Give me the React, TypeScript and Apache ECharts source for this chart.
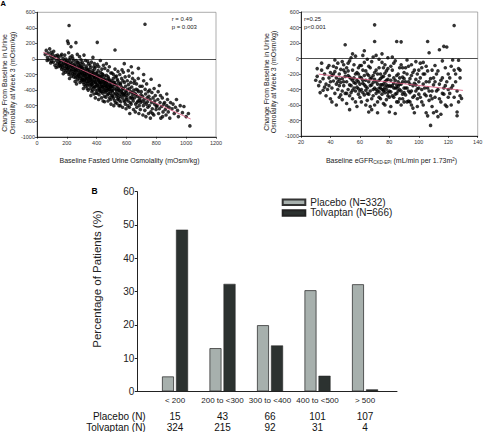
import React, { useEffect, useRef } from 'react';
import * as echarts from 'echarts';

const FONT = "'Liberation Sans', Arial, Helvetica, sans-serif";

// Panel B data
const categories = ['< 200', '200 to <300', '300 to <400', '400 to <500', '> 500'];
const placeboPct = [4.5, 13.0, 19.9, 30.4, 32.2];
const tolvaptanPct = [48.6, 32.3, 13.8, 4.7, 0.6];
const placeboN = [15, 43, 66, 101, 107];
const tolvaptanN = [324, 215, 92, 31, 4];

// Panel A regression lines (end points)
const leftReg = [[42, 86], [1030, -771]];
const rightReg = [[32, -202], [130, -412]];

// Panel A left: baseline fasted urine osmolality vs change
const leftPts = [
  [55,60],[62,110],[70,20],[75,75],[80,-10],[85,130],[90,40],[95,85],[98,-30],[100,10],[92,-50],[68,-20],
  [105,60],[110,-40],[115,20],[120,-80],[125,40],[130,-20],[135,-60],[138,50],[140,-100],[145,0],[148,-40],[150,-80],[112,100],[128,-110],[142,30],
  [152,-60],[155,-20],[158,-100],[160,40],[162,-80],[165,-130],[168,-30],[170,-70],[172,-110],[175,10],[178,-50],[180,-150],[182,-90],[185,-20],[188,-120],[190,-60],[192,-170],[195,-40],[198,-100],[200,-140],[186,50],[176,-190],[166,60],[194,0],[199,-70],
  [202,-30],[204,-120],[206,-80],[208,-170],[210,-50],[212,-110],[214,-200],[216,-10],[218,-140],[220,-70],[222,-180],[224,-100],[226,-40],[228,-150],[230,-220],[232,-90],[234,-130],[236,-60],[238,-190],[240,-110],[242,-160],[244,-20],[246,-230],[248,-80],[250,-140],[205,230],[210,200],[215,430],[228,158],[212,80],[235,40],[222,20],[240,10],[218,-250],[248,-200],
  [252,-100],[254,-180],[256,-60],[258,-240],[260,-130],[262,-20],[264,-200],[266,-90],[268,-160],[270,-270],[272,-120],[274,-50],[276,-210],[278,-150],[280,-80],[282,-250],[284,-180],[286,-110],[288,-300],[290,-140],[292,-60],[294,-220],[296,-170],[298,-100],[300,-260],[261,210],[270,60],[285,30],[295,-10],[255,-290],[265,-320],[275,-40],[283,-230],[291,-190],[299,-130],[257,-150],[267,-230],[279,-200],[289,-90],[297,-280],
  [302,-180],[304,-110],[306,-240],[308,-300],[310,-150],[312,-70],[314,-210],[316,-330],[318,-190],[320,-120],[322,-260],[324,-350],[326,-160],[328,-230],[330,-90],[332,-290],[334,-200],[336,-380],[338,-140],[340,-250],[342,-320],[344,-180],[346,-60],[348,-270],[350,-210],[303,-40],[311,-380],[319,-270],[327,-310],[335,-120],[343,-400],[349,-140],[315,50],[325,-20],[340,-30],[307,-200],[317,-160],[329,-190],[339,-340],[347,-230],[305,-260],[313,-280],[323,-220],[333,-250],[345,-290],
  [352,-160],[354,-300],[356,-230],[358,-380],[360,-110],[362,-260],[364,-330],[366,-200],[368,-420],[370,-280],[372,-150],[374,-350],[376,-240],[378,-310],[380,-190],[382,-450],[384,-270],[386,-130],[388,-360],[390,-230],[392,-300],[394,-400],[396,-180],[398,-330],[400,-260],[355,-80],[365,-40],[375,20],[385,-60],[395,-100],[359,-250],[369,-320],[379,-370],[389,-290],[399,-210],[353,-210],[363,-180],[373,-400],[383,-220],[393,-350],[357,-340],[367,-290],[377,-170],[387,-240],[397,-440],[361,-470],[381,-100],[391,-500],[371,-210],[404,214],
  [402,-180],[404,-310],[406,-240],[408,-400],[410,-150],[412,-360],[414,-280],[416,-460],[418,-210],[420,-330],[422,-250],[424,-420],[426,-170],[428,-380],[430,-300],[432,-500],[434,-230],[436,-350],[438,-270],[440,-440],[442,-200],[444,-320],[446,-390],[448,-260],[450,-340],[405,-70],[415,-100],[425,-20],[435,-130],[445,-80],[409,-270],[419,-290],[429,-230],[439,-360],[449,-410],[403,-440],[413,-520],[423,-300],[433,-420],[443,-540],[407,-340],[417,-380],[427,-310],[437,-190],[447,-300],[411,-220],[421,-400],[431,-350],[441,-270],[451,-480],
  [452,-220],[454,-370],[456,-300],[458,-430],[460,-260],[462,-490],[464,-350],[466,-210],[468,-400],[470,-320],[472,-460],[474,-280],[476,-540],[478,-370],[480,-250],[482,-420],[484,-330],[486,-500],[488,-390],[490,-290],[492,-440],[494,-360],[496,-580],[498,-310],[500,-470],[455,-120],[465,-60],[475,-150],[485,-100],[495,-180],[459,-340],[469,-380],[479,-450],[489,-340],[499,-400],[453,-550],[463,-410],[473,-350],[483,-390],[493,-520],[457,-280],[467,-310],[477,-230],[487,-270],[497,-350],
  [502,-280],[505,-420],[508,-350],[511,-500],[514,-300],[517,-450],[520,-380],[523,116],[526,-560],[529,-330],[532,-480],[535,-410],[538,-260],[541,-520],[544,-370],[547,-440],[550,-600],[503,-180],[513,-200],[523,-130],[533,-220],[543,-160],[507,-480],[519,-530],[531,-390],[545,-500],[509,-400],[521,-300],[537,-350],[549,-400],[515,-600],[527,-440],[539,-460],[501,-360],[511,-250],[525,-230],[536,-570],[548,-310],[518,-330],[542,-280],
  [553,-400],[556,-480],[559,-330],[562,-550],[565,-420],[568,-360],[571,-500],[574,-620],[577,-450],[580,-380],[583,-530],[586,-300],[589,-460],[592,-580],[595,-410],[598,-500],[555,-200],[567,-250],[579,-170],[591,-230],[558,-600],[570,-430],[582,-470],[594,-350],[561,-310],[573,-390],[585,-440],[597,-640],[552,-530],[564,-460],[576,-280],[588,-550],[600,-430],[570,-140],[585,-60],
  [603,-470],[607,-390],[611,-540],[615,-450],[619,-620],[623,-500],[627,-420],[631,-580],[635,-360],[639,-510],[643,-460],[647,-650],[605,-280],[617,-220],[629,-300],[641,-250],[609,-600],[621,-380],[633,-490],[645,-540],[613,-330],[625,-560],[637,-430],[649,-400],[601,-520],[650,-310],[622,-700],[640,-180],[612,-150],[632,-100],
  [653,-500],[657,-440],[661,-580],[665,-390],[669,-620],[673,-480],[677,-540],[681,-420],[685,-600],[689,-500],[693,-650],[697,-460],[655,-280],[667,-320],[679,-250],[691,-350],[659,-680],[671,-560],[683,-700],[695,-560],[663,-460],[675,-400],[687,-530],[699,-420],[680,-120],
  [703,-540],[708,-480],[713,-600],[718,-520],[723,-660],[728,-450],[733,-580],[738,-500],[743,-620],[748,-700],[705,-350],[715,-280],[725,-390],[735,-320],[745,-420],[710,-720],[720,-560],[730,-740],[740,-550],[750,-480],[724,446],[715,-200],
  [753,-600],[758,-520],[763,-680],[768,-560],[773,-640],[778,-500],[783,-720],[788,-580],[793,-470],[798,-650],[755,-400],[770,-430],[785,-380],[760,-760],[775,-700],[790,-540],[800,-610],[765,-260],
  [805,-600],[810,-520],[815,-700],[820,-640],[825,-560],[830,-760],[835,-610],[840,-500],[845,-680],[850,-580],[812,-420],[828,-470],[842,-740],[820,-340],
  [855,-560],[860,-650],[865,-720],[870,-600],[875,-520],[880,-680],[885,-620],[890,-760],[895,-560],[870,-450],
  [905,-640],[912,-580],[920,-700],[928,-620],[935,-520],[942,-660],[948,-740],
  [960,-600],[975,-690],[985,-610],[1000,-740],[1015,-700],[1025,-860]
];

// Panel A right: baseline eGFR vs change
const rightPts = [
  [30,-280],[31,-230],[32,-350],[33,-300],[34,-150],[35,-410],[35,-260],[36,-200],[37,-480],[37,-330],[38,-120],[38,-400],[39,-250],[39,-90],[40,-300],[40,-180],[33,-440],[36,-370],[34,-60],[39,-350],[31,-130],[40,-520],
  [41,-220],[41,-380],[42,-100],[42,-290],[43,-450],[43,-170],[44,-330],[44,-250],[45,-60],[45,-400],[46,-200],[46,-500],[47,-310],[47,-140],[48,-260],[48,-420],[49,-80],[49,-350],[50,-230],[50,-180],[50,178],[41,-560],[43,-20],[45,-300],[47,-470],[49,-150],[42,-200],[44,-600],[46,-350],[48,-40],[50,-450],[44,-120],[46,-270],[48,-530],[49,-300],
  [51,-300],[51,-120],[52,-400],[52,-220],[53,-30],[53,-480],[54,-260],[54,-350],[55,-150],[55,-520],[56,-310],[56,-80],[57,-420],[57,-200],[58,-280],[58,-370],[59,-120],[59,-460],[60,-330],[60,-240],[51,-580],[52,-160],[53,-340],[54,10],[55,-410],[56,-250],[57,-560],[58,-180],[59,-300],[60,-500],[51,-450],[53,-240],[55,-280],[57,-320],[59,-390],[52,-60],[54,-440],[56,-380],[58,-620],[60,-90],[55,60],[57,30],[53,-660],[59,-200],[60,-420],
  [61,-250],[61,-400],[62,-150],[62,-320],[63,-470],[63,-50],[64,-280],[64,-360],[65,-200],[65,-540],[66,-690],[66,-300],[67,-420],[67,-120],[68,-340],[68,-250],[69,-480],[69,20],[70,219],[70,434],[70,-380],[70,-180],[61,-560],[62,-440],[63,-220],[64,-600],[65,-380],[66,-100],[67,-260],[68,-520],[69,-310],[70,-600],[61,-90],[63,-340],[65,-450],[67,-620],[69,-220],[62,40],[64,-160],[66,-460],[68,-40],[70,-270],[63,100],[65,-10],[67,-350],[69,-400],[62,-280],[64,-410],[66,-220],[68,-660],
  [71,-300],[71,-450],[72,-700],[72,-200],[73,-380],[73,-120],[74,-260],[74,-520],[75,-340],[75,-50],[76,-420],[76,-230],[77,-600],[77,-300],[78,-160],[78,-400],[79,-480],[79,-270],[80,-690],[80,-350],[71,-150],[72,-560],[73,-280],[74,-380],[75,-460],[76,-330],[77,-190],[78,-530],[79,-360],[80,-220],[71,-400],[73,-500],[75,-240],[77,-440],[79,-130],[72,-330],[74,-200],[76,-580],[78,-280],[80,-420],[71,40],[73,-10],[75,60],[77,-80],[79,10],[72,-420],[74,-340],[76,-400],[78,-340],[80,-500],[75,-400],[77,-370],[73,-430],[79,-440],[76,-120],
  [81,-280],[81,-430],[82,-150],[82,-350],[83,-500],[83,-250],[84,-710],[84,-380],[85,-220],[85,220],[85,-450],[86,-300],[86,-560],[87,-120],[87,-400],[88,215],[88,-330],[88,-600],[89,-240],[89,-460],[90,-380],[90,-180],[81,-620],[82,-480],[83,-60],[84,-280],[85,-340],[86,-200],[87,-520],[88,-420],[89,-300],[90,-560],[81,-100],[83,-380],[85,-560],[87,-250],[89,-120],[82,20],[84,-30],[86,-420],[88,-80],[90,-260],[83,-320],[85,-380],[87,-330],[89,-520],[81,-360],[84,-460],[86,-360],[90,-440],
  [91,-300],[91,-470],[92,-200],[92,-380],[93,-550],[93,-100],[94,-330],[94,-260],[95,-420],[95,-600],[96,-180],[96,-350],[97,-700],[97,-480],[98,-270],[98,-40],[99,-390],[99,-520],[100,-300],[100,-150],[91,-120],[92,-560],[93,-300],[94,-440],[95,-220],[96,-500],[97,-320],[98,-420],[99,-200],[100,-460],[91,-380],[93,-420],[95,-80],[97,-150],[99,-620],[92,-20],[94,-560],[96,-640],[98,-340],[100,-380],
  [101,-250],[101,-500],[102,-400],[102,-120],[103,-330],[103,-600],[104,-200],[104,-460],[105,-700],[105,-300],[106,220],[106,-380],[106,-740],[107,74],[107,-540],[108,-863],[108,-260],[109,-420],[109,-150],[110,-700],[110,-340],[101,-60],[102,-560],[103,-200],[104,-380],[105,-480],[106,-160],[107,-300],[108,-480],[109,-620],[110,-250],[103,-50],[105,-100],[107,-420],[109,-520],
  [111,-300],[111,-500],[112,-680],[112,-200],[113,-750],[113,-400],[114,113],[114,-330],[115,-720],[115,-560],[116,-250],[116,-450],[117,157],[117,-380],[118,-120],[118,-600],[119,148],[119,-300],[120,-500],[120,-200],[111,-90],[112,-420],[113,-160],[114,-520],[115,-280],[116,-30],[117,-460],[118,-350],[119,-620],[120,-400],
  [121,-250],[121,-450],[122,-600],[122,-100],[123,-350],[123,-20],[124,425],[124,-500],[125,-200],[125,-300],[126,-690],[126,-420],[127,-560],[127,-130],[128,-480],[128,-250],[122,-380],[124,-150],
  [129,-515],[128,-150],[127,-22],[126,-738]
];

const tickColor = '#333';
const plainNum = (v: number) => String(v);

function scatterXAxis(gridIndex: number, min: number, max: number, interval: number) {
  return {
    type: 'value', gridIndex, min, max, interval,
    axisLine: { show: true, onZero: false, lineStyle: { color: '#000', width: 0.8 } },
    axisTick: { show: true, length: 2, lineStyle: { color: '#000', width: 0.6 } },
    axisLabel: { fontSize: 5.5, color: tickColor, margin: 3, fontFamily: FONT, formatter: plainNum },
    splitLine: { show: false },
  };
}
function scatterYAxis(gridIndex: number) {
  return {
    type: 'value', gridIndex, min: -1000, max: 600, interval: 200,
    axisLine: { show: true, onZero: false, lineStyle: { color: '#000', width: 0.8 } },
    axisTick: { show: true, length: 2, lineStyle: { color: '#000', width: 0.6 } },
    axisLabel: { fontSize: 5.5, color: tickColor, margin: 2, fontFamily: FONT, formatter: plainNum },
    splitLine: { show: false },
  };
}

const zeroLine = {
  silent: true, symbol: 'none', label: { show: false },
  lineStyle: { color: '#000', width: 0.7, type: 'solid' },
  data: [{ yAxis: 0 }],
};

export default function App() {
  const ref = useRef<HTMLDivElement>(null);
  useEffect(() => {
    document.body.style.margin = '0';
    if (!ref.current) return;
    const chart = echarts.init(ref.current, undefined, { renderer: 'svg' });
    const option: any = {
      animation: false,
      textStyle: { fontFamily: FONT },
      grid: [
        { left: 37, top: 12.3, width: 179, height: 124.5, show: true, borderColor: '#8a8a8a', borderWidth: 0.7 },
        { left: 301, top: 12, width: 176.7, height: 124, show: true, borderColor: '#8a8a8a', borderWidth: 0.7 },
        { left: 151.25, top: 191.7, width: 237.5, height: 200 },
        { left: 137, top: 191.7, width: 260, height: 200 },
      ],
      xAxis: [
        scatterXAxis(0, 0, 1200, 200),
        scatterXAxis(1, 20, 140, 20),
        {
          type: 'category', gridIndex: 2, data: categories,
          axisLine: { show: false }, axisTick: { show: false },
          axisLabel: { interval: 0, fontSize: 8, color: '#222', margin: 5, fontFamily: FONT },
        },
        {
          type: 'category', gridIndex: 2, data: categories, position: 'bottom', offset: 20,
          axisLine: { show: false }, axisTick: { show: false },
          axisLabel: { interval: 0, fontSize: 10, color: '#111', margin: 0, fontFamily: FONT,
            formatter: (_v: string, i: number) => String(placeboN[i]) },
        },
        {
          type: 'category', gridIndex: 2, data: categories, position: 'bottom', offset: 30.6,
          axisLine: { show: false }, axisTick: { show: false },
          axisLabel: { interval: 0, fontSize: 10, color: '#111', margin: 0, fontFamily: FONT,
            formatter: (_v: string, i: number) => String(tolvaptanN[i]) },
        },
        {
          type: 'value', gridIndex: 3, min: 0, max: 1,
          axisLine: { show: true, lineStyle: { color: '#222', width: 1 } },
          axisTick: { show: false }, axisLabel: { show: false }, splitLine: { show: false },
        },
      ],
      yAxis: [
        scatterYAxis(0),
        scatterYAxis(1),
        {
          type: 'value', gridIndex: 2, min: 0, max: 60, interval: 10, offset: 14,
          axisLine: { show: true, lineStyle: { color: '#222', width: 1 } },
          axisTick: { show: true, length: 2.5, lineStyle: { color: '#222' } },
          axisLabel: { fontSize: 10, color: '#222', margin: 3, fontFamily: FONT },
          splitLine: { show: false },
        },
        { type: 'value', gridIndex: 3, min: 0, max: 1, show: false },
      ],
      legend: {
        orient: 'vertical', left: 276.7, top: 192.3, itemWidth: 22.6, itemHeight: 5.5, itemGap: 0.6,
        icon: 'rect',
        textStyle: { fontSize: 10, color: '#222', fontFamily: FONT },
        data: ['Placebo (N=332)', 'Tolvaptan (N=666)'],
      },
      series: [
        {
          type: 'scatter', xAxisIndex: 0, yAxisIndex: 0, data: leftPts, symbolSize: 3.6,
          itemStyle: { color: '#000' }, markLine: zeroLine, silent: true,
        },
        {
          type: 'line', xAxisIndex: 0, yAxisIndex: 0, data: leftReg, symbol: 'none',
          lineStyle: { color: '#d9537a', width: 0.8 }, silent: true, z: 3,
        },
        {
          type: 'scatter', xAxisIndex: 1, yAxisIndex: 1, data: rightPts, symbolSize: 3.6,
          itemStyle: { color: '#000' }, markLine: zeroLine, silent: true,
        },
        {
          type: 'line', xAxisIndex: 1, yAxisIndex: 1, data: rightReg, symbol: 'none',
          lineStyle: { color: '#d9537a', width: 0.8 }, silent: true, z: 3,
        },
        {
          name: 'Placebo (N=332)', type: 'bar', xAxisIndex: 2, yAxisIndex: 2, data: placeboPct,
          barWidth: 12, barGap: '17%',
          itemStyle: { color: '#a7b0ad', borderColor: '#333', borderWidth: 0.8 },
        },
        {
          name: 'Tolvaptan (N=666)', type: 'bar', xAxisIndex: 2, yAxisIndex: 2, data: tolvaptanPct,
          barWidth: 12, barGap: '17%',
          itemStyle: { color: '#2c3230', borderColor: '#222', borderWidth: 0.5 },
        },
      ],
      graphic: [
        { type: 'text', x: 0.5, y: 3, style: { text: 'A', fontSize: 7.5, fontWeight: 'bold', fill: '#000', align: 'left', verticalAlign: 'middle', fontFamily: FONT } },
        { type: 'text', x: 91.5, y: 191, style: { text: 'B', fontSize: 8.5, fontWeight: 'bold', fill: '#000', align: 'left', verticalAlign: 'middle', fontFamily: FONT } },
        { type: 'text', x: 171.7, y: 18.7, style: { text: 'r = 0.49', fontSize: 6, fill: '#222', align: 'left', verticalAlign: 'middle', fontFamily: FONT } },
        { type: 'text', x: 171.7, y: 27, style: { text: 'p = 0.003', fontSize: 6, fill: '#222', align: 'left', verticalAlign: 'middle', fontFamily: FONT } },
        { type: 'text', x: 304, y: 18.7, style: { text: 'r=0.25', fontSize: 6, fill: '#222', align: 'left', verticalAlign: 'middle', fontFamily: FONT } },
        { type: 'text', x: 304, y: 27, style: { text: 'p<0.001', fontSize: 6, fill: '#222', align: 'left', verticalAlign: 'middle', fontFamily: FONT } },
        { type: 'text', x: 4.7, y: 83, rotation: Math.PI / 2, style: { text: 'Change From Baseline in Urine', fontSize: 7, fill: '#222', align: 'center', verticalAlign: 'middle', fontFamily: FONT } },
        { type: 'text', x: 12, y: 83, rotation: Math.PI / 2, style: { text: 'Osmolality at Week 3 (mOsm/kg)', fontSize: 7, fill: '#222', align: 'center', verticalAlign: 'middle', fontFamily: FONT } },
        { type: 'text', x: 266.3, y: 82, rotation: Math.PI / 2, style: { text: 'Change From Baseline in Urine', fontSize: 7, fill: '#222', align: 'center', verticalAlign: 'middle', fontFamily: FONT } },
        { type: 'text', x: 273.7, y: 82, rotation: Math.PI / 2, style: { text: 'Osmolality at Week 3 (mOsm/kg)', fontSize: 7, fill: '#222', align: 'center', verticalAlign: 'middle', fontFamily: FONT } },
        { type: 'text', x: 129.5, y: 160, style: { text: 'Baseline Fasted Urine Osmolality (mOsm/kg)', fontSize: 7, fill: '#222', align: 'center', verticalAlign: 'middle', fontFamily: FONT } },
        {
          type: 'text', x: 391.5, y: 160.7,
          style: {
            text: '{a|Baseline eGFR}{b|CKD-EPI}{a| (mL/min per 1.73m}{c|2}{a|)}',
            align: 'center', verticalAlign: 'middle', fill: '#222', fontFamily: FONT,
            rich: {
              a: { fontSize: 7, fill: '#222', fontFamily: FONT },
              b: { fontSize: 4.5, fill: '#222', fontFamily: FONT, padding: [3, 0, 0, 0] },
              c: { fontSize: 4.5, fill: '#222', fontFamily: FONT, padding: [0, 0, 3, 0] },
            },
          },
        },
        { type: 'text', x: 97, y: 279, rotation: Math.PI / 2, style: { text: 'Percentage of Patients (%)', fontSize: 11.5, fill: '#222', align: 'center', verticalAlign: 'middle', fontFamily: FONT } },
        { type: 'text', x: 145.7, y: 416.7, style: { text: 'Placebo (N)', fontSize: 10, fill: '#111', align: 'right', verticalAlign: 'middle', fontFamily: FONT } },
        { type: 'text', x: 145.7, y: 427.3, style: { text: 'Tolvaptan (N)', fontSize: 10, fill: '#111', align: 'right', verticalAlign: 'middle', fontFamily: FONT } },
      ],
    };
    chart.setOption(option);
    return () => chart.dispose();
  }, []);
  return <div ref={ref} style={{ width: 486, height: 432 }} />;
}
